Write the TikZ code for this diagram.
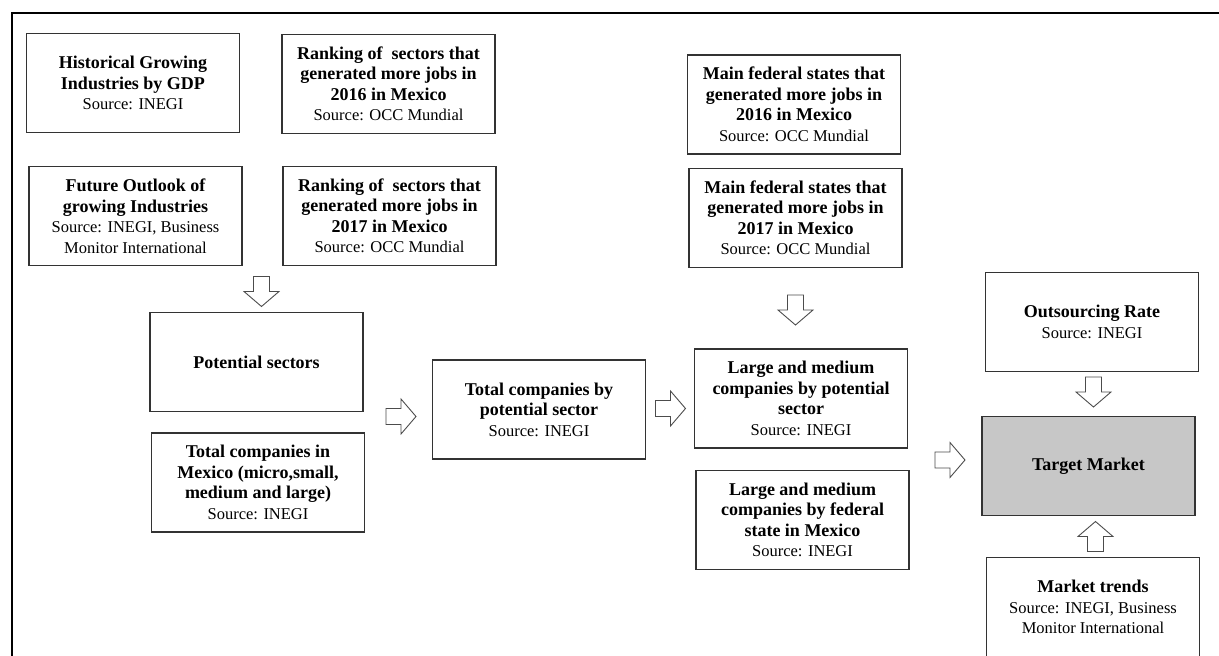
\documentclass[tikz,border=0pt]{standalone}
\usepackage{fontspec}
\setmainfont{Liberation Serif}
\newcommand{\hb}[1]{{\fontsize{18}{20.5}\selectfont\bfseries #1}}
\begin{document}
\begin{tikzpicture}[x=1pt,y=1pt]
\tikzset{
 box/.style={draw=black!80, line width=1.1pt, minimum width=213pt, minimum height=99pt,
   align=center, inner sep=0pt, font=\fontsize{16.5}{20.5}\selectfont},
 hl/.style={fill=black!22},
 arrowline/.style={line width=0.9pt, draw=black!70, fill=white, line join=miter},
 barrow/.pic={\draw[arrowline] (-15,8) -- (0,8) -- (0,17.5) -- (15,0) -- (0,-17.5) -- (0,-8) -- (-15,-8) -- cycle;}
}
\useasboundingbox (0,0) rectangle (1219,656);
\clip (0,0) rectangle (1219,656);
\fill[white] (0,0) rectangle (1219,656);
% frame
\draw[line width=2pt] (12,0) |- (1219,643);

\node[box] (hist) at (133,573) {\hb{Historical Growing}\\\hb{Industries by GDP}\\Source: INEGI};
\node[box] (rank16) at (388.5,572) {\hb{Ranking of\ \ sectors that}\\\hb{generated more jobs in}\\\hb{2016 in Mexico}\\Source: OCC Mundial};
\node[box] (fut) at (135.5,440) {\hb{Future Outlook of}\\\hb{growing Industries}\\Source: INEGI, Business\\Monitor International};
\node[box] (rank17) at (389.5,440) {\hb{Ranking of\ \ sectors that}\\\hb{generated more jobs in}\\\hb{2017 in Mexico}\\Source: OCC Mundial};
\node[box] (fed16) at (794,551.5) {\hb{Main federal states that}\\\hb{generated more jobs in}\\\hb{2016 in Mexico}\\Source: OCC Mundial};
\node[box] (fed17) at (795.5,438) {\hb{Main federal states that}\\\hb{generated more jobs in}\\\hb{2017 in Mexico}\\Source: OCC Mundial};
\node[box] (pot) at (256.5,294) {\hb{Potential sectors}};
\node[box] (totmx) at (258,173.5) {\hb{Total companies in}\\\hb{Mexico (micro,small,}\\\hb{medium and large)}\\Source: INEGI};
\node[box] (totsec) at (539,246.5) {\hb{Total companies by}\\\hb{potential sector}\\Source: INEGI};
\node[box] (lmsec) at (801,257.5) {\hb{Large and medium}\\\hb{companies by potential}\\\hb{sector}\\Source: INEGI};
\node[box] (lmfed) at (802.5,136) {\hb{Large and medium}\\\hb{companies by federal}\\\hb{state in Mexico}\\Source: INEGI};
\node[box] (outs) at (1092,334) {\hb{Outsourcing Rate}\\Source: INEGI};
\node[box,hl] (target) at (1088.5,190) {\hb{Target Market}};
\node[box] (trends) at (1093,49) {\hb{Market trends}\\Source: INEGI, Business\\Monitor International};

% block arrows
\coordinate (a1) at (261.5,364.5);
\coordinate (a2) at (401,239.5);
\coordinate (a3) at (670.5,247.5);
\coordinate (a4) at (795.5,346);
\coordinate (a5) at (950,196);
\coordinate (a6) at (1093.5,264);
\coordinate (a7) at (1095.5,119.5);
\pic[rotate=-90] at (a1) {barrow};
\pic at (a2) {barrow};
\pic at (a3) {barrow};
\pic[rotate=-90] at (a4) {barrow};
\pic at (a5) {barrow};
\pic[rotate=-90] at (a6) {barrow};
\pic[rotate=90] at (a7) {barrow};
\end{tikzpicture}
\end{document}
